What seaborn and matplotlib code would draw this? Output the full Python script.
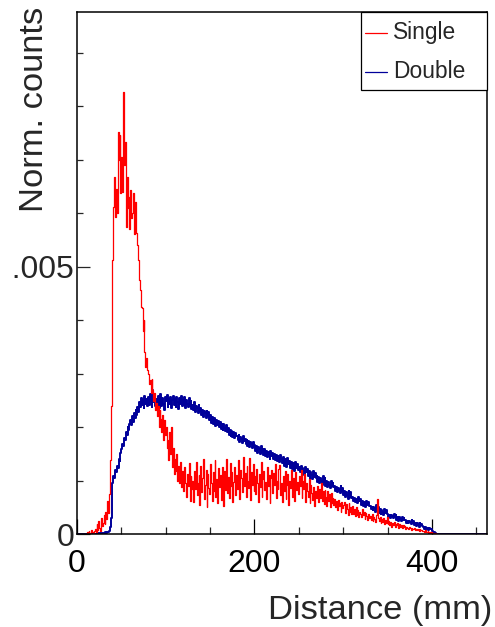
import numpy as np
import pandas as pd
import matplotlib
matplotlib.use("Agg")
import matplotlib.pyplot as plt
from matplotlib.lines import Line2D
from matplotlib.patches import Rectangle
from matplotlib.transforms import Bbox, TransformedBbox
import seaborn as sns

# Histogram contents, 1 mm bins starting at 0 mm, in units of 1e-5 (normalised counts)
BIN_WIDTH = 1.0
single = [
    0, 0, 0, 0, 0, 0, 0, 0, 0, 0,
    0, 3, 0, 5, 2, 0, 8, 4, 0, 6,
    10, 4, 18, 8, 25, 12, 6, 30, 15, 20,
    35, 18, 42, 28, 62, 40, 75, 138, 240, 357,
    512, 611, 667, 593, 645, 600, 752, 700, 746, 637,
    705, 640, 826, 690, 733, 574, 667, 610, 630, 570,
    643, 590, 600, 637, 560, 620, 599, 562, 540, 512,
    475, 456, 425, 422, 380, 400, 340, 313, 330, 306,
    300, 280, 288, 263, 290, 270, 248, 263, 232, 245,
    220, 240, 200, 232, 215, 190, 222, 176, 213, 185,
    200, 160, 175, 138, 190, 150, 200, 125, 160, 113,
    140, 118, 150, 100, 128, 95, 135, 88, 118, 105,
    80, 125, 96, 70, 112, 90, 132, 62, 108, 85,
    100, 60, 118, 84, 135, 72, 95, 110, 55, 128,
    78, 104, 140, 66, 92, 120, 50, 112, 86, 74,
    130, 96, 62, 115, 80, 138, 70, 102, 58, 124,
    88, 110, 64, 126, 94, 52, 118, 82, 140, 76,
    106, 68, 132, 90, 115, 60, 98, 125, 72, 110,
    84, 138, 96, 66, 120, 104, 78, 144, 90, 114,
    70, 128, 100, 86, 142, 64, 116, 92, 130, 80,
    108, 74, 122, 96, 60, 112, 88, 134, 70, 102,
    118, 82, 98, 66, 126, 90, 110, 58, 104, 120,
    76, 114, 92, 130, 68, 100, 84, 122, 129, 72,
    96, 60, 108, 80, 118, 66, 92, 112, 54, 100,
    86, 120, 70, 104, 94, 62, 116, 82, 98, 74,
    108, 90, 120, 68, 100, 84, 112, 60, 96, 80,
    70, 102, 58, 92, 76, 64, 88, 52, 80, 68,
    72, 90, 60, 84, 68, 96, 62, 80, 56, 82,
    70, 52, 80, 62, 74, 50, 76, 58, 68, 54,
    66, 50, 62, 44, 64, 52, 58, 42, 60, 48,
    54, 60, 40, 56, 46, 36, 58, 42, 50, 38,
    52, 38, 46, 34, 50, 36, 44, 32, 42, 38,
    32, 46, 36, 42, 28, 40, 34, 26, 38, 30,
    34, 26, 38, 24, 32, 28, 22, 36, 65, 30,
    24, 32, 20, 28, 22, 30, 18, 26, 21, 32,
    18, 24, 16, 22, 14, 20, 17, 23, 13, 19,
    16, 20, 12, 18, 14, 16, 11, 17, 13, 15,
    10, 14, 12, 9, 13, 11, 8, 12, 10, 9,
    11, 7, 10, 8, 9, 6, 10, 7, 8, 5,
    6, 3, 7, 4, 3, 5, 2, 4, 1, 3,
    2, 1, 2, 0, 1, 0, 0, 0, 0, 0,
    0, 0, 0, 0, 0, 0, 0, 0, 0, 0,
    0, 0, 0, 0, 0, 0, 0, 0, 0, 0,
    0, 0, 0, 0, 0, 0, 0, 0, 0, 0,
    0, 0, 0, 0, 0, 0, 0, 0, 0, 0,
    0, 0, 0, 0, 0, 0, 0, 0, 0, 0,
    0, 0,
]
double = [
    0, 0, 0, 0, 0, 0, 0, 0, 0, 0,
    0, 0, 0, 0, 0, 0, 0, 0, 0, 0,
    0, 0, 1, 0, 1, 1, 0, 1, 2, 1,
    2, 1, 3, 2, 4, 3, 6, 14, 30, 75,
    95, 108, 104, 120, 116, 128, 124, 140, 136, 152,
    158, 168, 164, 180, 176, 190, 186, 200, 194, 206,
    214, 204, 220, 210, 226, 216, 232, 222, 238, 228,
    246, 238, 255, 242, 250, 236, 258, 244, 252, 240,
    256, 242, 262, 248, 238, 269, 246, 256, 240, 252,
    244, 258, 236, 250, 262, 240, 254, 244, 232, 256,
    248, 260, 238, 252, 244, 256, 236, 250, 258, 242,
    252, 238, 256, 246, 234, 254, 244, 258, 240, 250,
    242, 256, 236, 250, 244, 238, 254, 240, 248, 234,
    242, 232, 246, 228, 240, 236, 226, 242, 230, 236,
    222, 232, 218, 230, 226, 216, 230, 220, 228, 214,
    222, 208, 218, 206, 216, 210, 202, 214, 204, 212,
    200, 210, 196, 206, 194, 206, 198, 192, 204, 190,
    198, 186, 194, 184, 192, 182, 190, 180, 188, 184,
    184, 176, 186, 172, 182, 178, 170, 184, 174, 178,
    168, 176, 164, 174, 162, 172, 168, 160, 172, 162,
    166, 156, 164, 152, 162, 158, 150, 164, 154, 158,
    148, 158, 146, 156, 144, 154, 150, 140, 156, 146,
    152, 140, 150, 138, 148, 136, 146, 142, 134, 148,
    140, 132, 144, 128, 140, 134, 126, 142, 130, 136,
    124, 134, 122, 132, 126, 118, 134, 124, 130, 120,
    126, 116, 128, 114, 124, 118, 110, 126, 116, 122,
    108, 118, 104, 116, 110, 102, 118, 106, 114, 104,
    108, 98, 106, 96, 104, 100, 92, 108, 98, 104,
    90, 100, 88, 98, 92, 86, 100, 90, 96, 88,
    90, 80, 88, 78, 86, 82, 76, 90, 80, 86,
    72, 80, 70, 78, 72, 66, 80, 70, 78, 68,
    70, 62, 68, 60, 66, 64, 58, 70, 62, 66,
    54, 62, 52, 60, 56, 50, 62, 54, 60, 52,
    52, 46, 50, 44, 50, 48, 42, 54, 46, 50,
    40, 46, 38, 44, 42, 36, 46, 40, 44, 38,
    38, 32, 36, 30, 36, 34, 30, 38, 32, 36,
    26, 32, 25, 31, 28, 24, 32, 27, 30, 26,
    26, 21, 25, 20, 24, 23, 19, 26, 21, 24,
    16, 21, 15, 20, 17, 14, 20, 16, 19, 15,
    14, 10, 13, 9, 12, 11, 8, 12, 9, 10,
    6, 4, 3, 1, 1, 0, 0, 0, 0, 0,
    0, 0, 0, 0, 0, 0, 0, 0, 0, 0,
    0, 0, 0, 0, 0, 0, 0, 0, 0, 0,
    0, 0, 0, 0, 0, 0, 0, 0, 0, 0,
    0, 0, 0, 0, 0, 0, 0, 0, 0, 0,
    0, 0, 0, 0, 0, 0, 0, 0, 0, 0,
    0, 0,
]
SCALE = 1e-5
series_names = ["Single", "Double"]
series_colors = ["#ff0000", "#00009a"]
x_ticks = [0, 200, 400]
x_ticklabels = ["0", "200", "400"]
y_ticks = [0.0, 0.005]
y_ticklabels = ["0", "0.005"]
x_title = "Distance (mm)"
y_title = "Norm. counts"

sns.set_style("white")
plt.rcParams["font.family"] = ["Liberation Sans", "DejaVu Sans"]

W, H = 495, 627
fig = plt.figure(figsize=(W / 100, H / 100), dpi=100)
L, R, T, B = 77, 487, 12, 534
ax = fig.add_axes([L / W, 1 - B / H, (R - L) / W, (B - T) / H])

def make_df(vals, name):
    vals = np.asarray(vals, dtype=float) * SCALE
    n = len(vals)
    centers = (np.arange(n) + 0.5) * BIN_WIDTH
    return pd.DataFrame({"x": centers, "w": vals, "s": name}), n * BIN_WIDTH

df_s, top_s = make_df(single, "Single")
df_d, top_d = make_df(double, "Double")

sns.histplot(data=df_d, x="x", weights="w", binwidth=BIN_WIDTH, binrange=(0, top_d),
             element="step", fill=False, color=series_colors[1], linewidth=1.4, ax=ax)
sns.histplot(data=df_s, x="x", weights="w", binwidth=BIN_WIDTH, binrange=(0, top_s),
             element="step", fill=False, color=series_colors[0], linewidth=0.9, ax=ax)

ax.set_xlim(0, 462)
ax.set_ylim(0, 0.00976)
ax.set_xlabel("")
ax.set_ylabel("")

ax.set_xticks(x_ticks)
ax.set_xticklabels(x_ticklabels)
ax.set_xticks(np.arange(0, 462, 50), minor=True)
ax.set_yticks(y_ticks)
ax.set_yticklabels(y_ticklabels)
ax.set_yticks(np.arange(0, 0.0097, 0.001), minor=True)

ax.tick_params(axis="x", which="major", direction="in", length=10.8, width=0.9,
               labelsize=23, pad=11, colors="black", bottom=True, top=False)
ax.tick_params(axis="x", which="minor", direction="in", length=5.2, width=0.9,
               bottom=True, top=False)
ax.tick_params(axis="y", which="major", direction="in", length=9.4, width=0.9,
               labelsize=23, pad=2, left=True, right=False)
ax.tick_params(axis="y", which="minor", direction="in", length=4.5, width=0.9,
               left=True, right=False)
for sp in ax.spines.values():
    sp.set_visible(True)
    sp.set_color("black")
    sp.set_linewidth(1.1)

# the reference canvas cuts the y tick labels at its left edge
clip = TransformedBbox(Bbox([[12.5 / W, 0], [1, 1]]), fig.transFigure)
for tk in ax.yaxis.get_major_ticks():
    tk.label1.set_clip_box(clip)
    tk.label1.set_clip_on(True)

# axis titles (ROOT style: aligned to the end of the axes)
fig.text(492 / W, 1 - 619 / H, x_title, ha="right", va="baseline", fontsize=24.8)
fig.text(43 / W, 1 - 7 / H, y_title, ha="right", va="baseline", rotation=90,
         rotation_mode="anchor", fontsize=24.8)

# legend box
def axx(px):
    return (px - L) / (R - L)

def axy(py):
    return (B - py) / (B - T)

ax.add_patch(Rectangle((axx(361), axy(90)), axx(487) - axx(361), axy(12) - axy(90),
                       transform=ax.transAxes, facecolor="white", edgecolor="black",
                       linewidth=0.9, zorder=5, clip_on=False))
for name, col, py in zip(series_names, series_colors, [33, 72]):
    ax.add_line(Line2D([axx(365), axx(387)], [axy(py), axy(py)], transform=ax.transAxes,
                       color=col, linewidth=0.9, zorder=6, clip_on=False))
    ax.text(axx(393), axy(py), name, transform=ax.transAxes, ha="left", va="center",
            fontsize=16.4, zorder=6)

fig.savefig("out.png", dpi=100)
